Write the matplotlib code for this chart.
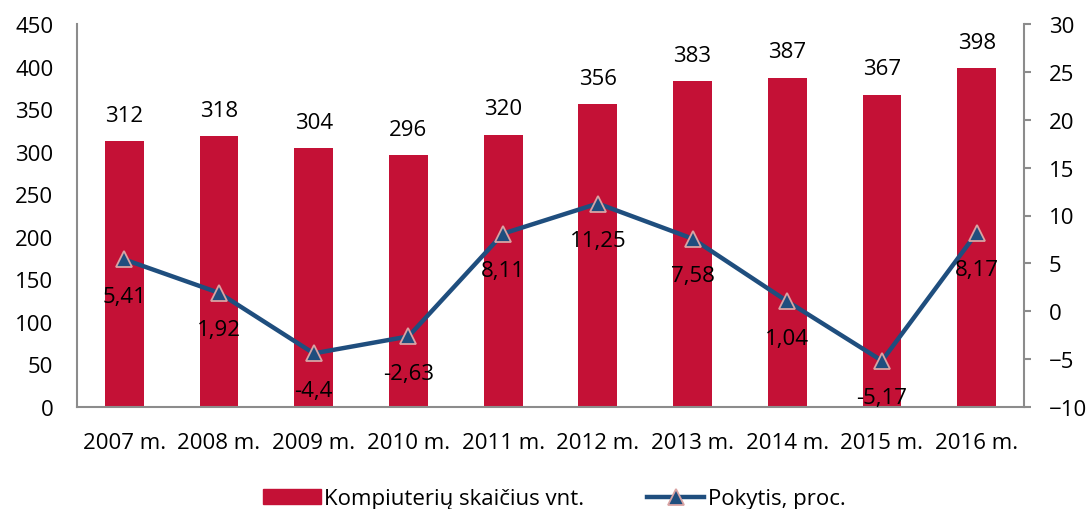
import matplotlib
matplotlib.use('Agg')
import matplotlib.pyplot as plt
from matplotlib.lines import Line2D
from matplotlib.patches import Patch
import numpy as np

plt.rcParams['font.family'] = ['Open Sans', 'DejaVu Sans']

# 数据
years = ['2007 m.', '2008 m.', '2009 m.', '2010 m.', '2011 m.',
         '2012 m.', '2013 m.', '2014 m.', '2015 m.', '2016 m.']
computers = [312, 318, 304, 296, 320, 356, 383, 387, 367, 398]
change = [5.41, 1.92, -4.4, -2.63, 8.11, 11.25, 7.58, 1.04, -5.17, 8.17]
change_labels = ['5,41', '1,92', '-4,4', '-2,63', '8,11', '11,25', '7,58', '1,04', '-5,17', '8,17']

bar_color = '#C41136'
line_color = '#1F4E7E'
grey = '#8C8C8C'
fs = 16

fig = plt.figure(figsize=(10.87, 5.10), dpi=100)
ax = fig.add_axes([77 / 1087, 1 - 408 / 510, (1024 - 77) / 1087, (408 - 25) / 510])
x = np.arange(len(years))

ax.bar(x, computers, width=0.41, color=bar_color, zorder=2)
ax.set_ylim(0, 450)
ax.set_xlim(-0.5, len(years) - 0.5)
ax.set_yticks(range(0, 451, 50))
ax.set_xticks(x)
ax.set_xticklabels(years)
ax.tick_params(axis='y', length=0, labelsize=fs, pad=17)
ax.tick_params(axis='x', length=0, labelsize=fs, pad=18)
for s in ['top', 'right']:
    ax.spines[s].set_visible(False)
ax.spines['left'].set_color(grey)
ax.spines['bottom'].set_color(grey)
ax.spines['left'].set_linewidth(1.5)
ax.spines['bottom'].set_linewidth(1.5)

for xi, v in zip(x, computers):
    ax.annotate(str(v), (xi, v), xytext=(0, 11), textcoords='offset points',
                ha='center', va='bottom', fontsize=fs)

ax2 = ax.twinx()
ax2.plot(x, change, color=line_color, lw=3.2, marker='^', markersize=12,
         markerfacecolor=line_color, markeredgecolor='#D9A3A3', markeredgewidth=1.3, zorder=3)
ax2.set_ylim(-10, 30)
ax2.set_yticks(range(-10, 31, 5))
ax2.tick_params(axis='y', length=5, width=1.5, color=grey, labelsize=fs, pad=13)
for s in ['top', 'left', 'bottom']:
    ax2.spines[s].set_visible(False)
ax2.spines['right'].set_color(grey)
ax2.spines['right'].set_linewidth(1.5)

for xi, v, lab in zip(x, change, change_labels):
    ax2.annotate(lab, (xi, v), xytext=(0, -19), textcoords='offset points',
                 ha='center', va='top', fontsize=fs)

handles = [Patch(color=bar_color, label='Kompiuterių skaičius vnt.'),
           Line2D([], [], color=line_color, lw=3.2, marker='^', markersize=12,
                  markerfacecolor=line_color, markeredgecolor='#D9A3A3', markeredgewidth=1.3,
                  label='Pokytis, proc.')]
fig.legend(handles=handles, loc='center', bbox_to_anchor=(0.51, 0.02), ncol=2,
           frameon=False, fontsize=fs, handlelength=2.6, handletextpad=0.15, columnspacing=2.8)

fig.savefig('out.png', dpi=100)
